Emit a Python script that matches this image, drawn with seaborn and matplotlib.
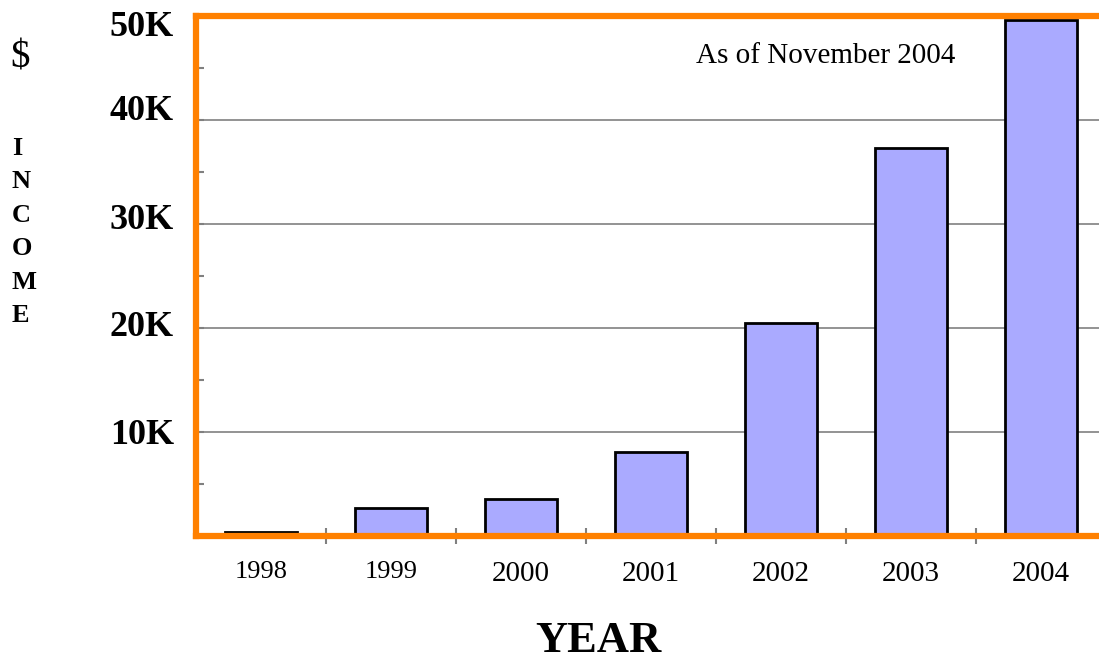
import matplotlib
matplotlib.use('Agg')
import matplotlib.pyplot as plt
import matplotlib.transforms as mtrans
import seaborn as sns
import pandas as pd
from matplotlib.ticker import FixedLocator, NullFormatter

sns.set_style('white')
plt.rcParams['font.family'] = ['Liberation Serif', 'DejaVu Serif']
plt.rcParams['text.color'] = 'black'

years = ['1998', '1999', '2000', '2001', '2002', '2003', '2004']
income = [350, 2700, 3600, 8100, 20500, 37300, 49600]
ytick_vals = [10000, 20000, 30000, 40000, 50000]
ytick_labels = ['10K', '20K', '30K', '40K', '50K']

df = pd.DataFrame({'year': years, 'income': income})

fig = plt.figure(figsize=(10.99, 6.59), dpi=100)
ax = fig.add_axes([196/1099, 1-536/659, 1-196/1099, 520/659])

ax.grid(axis='y', color='#808080', linewidth=1.2, zorder=0)
ax.set_axisbelow(True)
sns.barplot(x='year', y='income', data=df, color='#aaaaff', saturation=1,
            edgecolor='black', linewidth=2, width=0.56, ax=ax, zorder=3)

ax.set_xlim(-0.5, 6.446)
ax.set_ylim(0, 50000)

# y ticks
ax.set_yticks(ytick_vals)
ax.set_yticklabels(ytick_labels, fontsize=26, fontweight='bold')
ax.yaxis.set_minor_locator(FixedLocator([5000, 15000, 25000, 35000, 45000]))
ax.tick_params(axis='y', which='both', direction='in', length=6, width=1.5,
               color='#808080', labelcolor='black', left=True, pad=16)
# the original labels sit a little off their gridlines
shifts = [0, 4, 7, 12, -8]
for lab, dy in zip(ax.get_yticklabels(), shifts):
    lab.set_transform(lab.get_transform() +
                      mtrans.ScaledTranslation(0, dy / 100, fig.dpi_scale_trans))

# x ticks: labels at centres, tick marks at category boundaries
ax.xaxis.set_minor_locator(FixedLocator([0.5, 1.5, 2.5, 3.5, 4.5, 5.5]))
ax.xaxis.set_minor_formatter(NullFormatter())
ax.tick_params(axis='x', which='major', length=0, pad=18, labelsize=21,
               labelcolor='black')
ax.tick_params(axis='x', which='minor', direction='inout', length=12, width=1.5,
               color='#808080', bottom=True)
for lab in ax.get_xticklabels()[:2]:
    lab.set_fontsize(19)

for s in ['left', 'bottom', 'top']:
    ax.spines[s].set_color('#ff8000')
    ax.spines[s].set_linewidth(4.5)
    ax.spines[s].set_zorder(5)
ax.spines['right'].set_visible(False)

ax.set_xlabel('')
ax.set_ylabel('')

fig.text(955/1099, 1-56/659, 'As of November 2004', fontsize=21,
         ha='right', va='center')

fig.text(598/1099, 1-641/659, 'YEAR', fontsize=32, fontweight='bold',
         ha='center', va='center')
fig.text(10/1099, 1-58/659, '$', fontsize=28, ha='left', va='center')
fig.text(12/1099, 1-232/659, 'I\nN\nC\nO\nM\nE', fontsize=19, fontweight='bold',
         ha='left', va='center', linespacing=1.58)

fig.savefig('out.png', dpi=100)
